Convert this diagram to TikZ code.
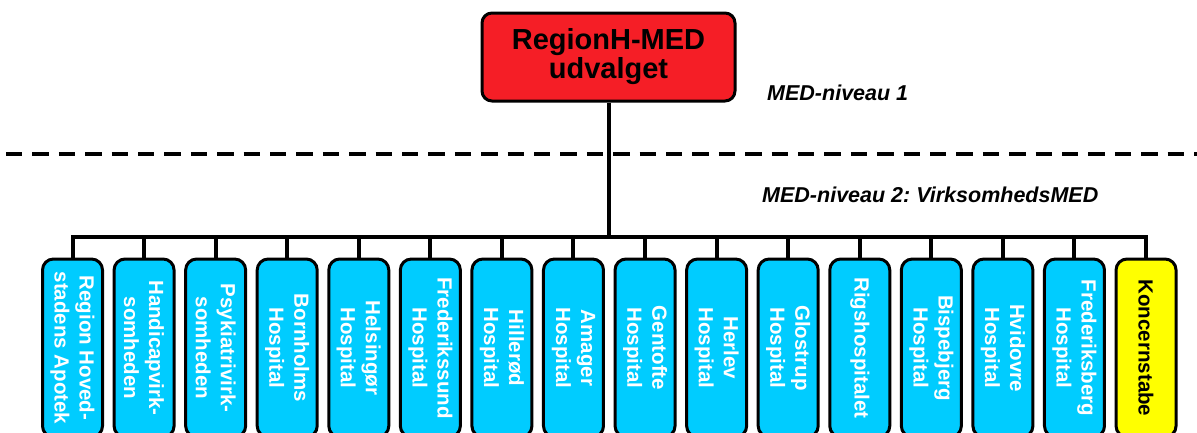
\documentclass[tikz,border=0pt]{standalone}
\usepackage{fontspec}
\setmainfont{Liberation Sans}
\frenchspacing
\definecolor{topred}{RGB}{245,30,38}
\definecolor{unitcyan}{RGB}{0,204,255}
\definecolor{unityellow}{RGB}{255,255,0}
\begin{document}
\frenchspacing
\begin{tikzpicture}[x=1pt,y=-1pt,
  topbox/.style={draw=black, line width=3pt, rounded corners=10pt, fill=topred,
    minimum width=253pt, minimum height=88pt, align=center, inner sep=0pt,
    font=\fontsize{29}{29}\selectfont\bfseries},
  unitbox/.style={draw=black, line width=3pt, rounded corners=11pt, fill=unitcyan,
    text=white, rotate=-90, minimum width=178pt, minimum height=60pt,
    align=center, inner sep=0pt, font=\fontsize{20.5}{25}\selectfont\bfseries},
  staffbox/.style={unitbox, fill=unityellow, text=black},
  conn/.style={line width=4pt, black},
  levellabel/.style={anchor=base west, inner sep=0pt,
    font=\fontsize{21.5}{24}\selectfont\bfseries\itshape},
  divider/.style={line width=4pt, dash pattern=on 16.4pt off 10pt}
]
\clip (0,0) rectangle (1197,432);
\fill[white] (0,0) rectangle (1197,432);

% divider line between levels
\coordinate (dl) at (6,154);
\coordinate (dr) at (1197,154);
\draw[divider] (dl) -- (dr);

% level labels
\node[levellabel] (lv1) at (767,100) {MED-niveau 1};
\node[levellabel] (lv2) at (762,202) {MED-niveau 2: VirksomhedsMED};

% top committee
\node[topbox] (top) at (608.5,57) {RegionH-MED\\udvalget};

% units
\foreach \i/\txt in {1/{Region Hoved-\\stadens Apotek},
                     2/{Handicapvirk-\\somheden},
                     3/{Psykiatrivirk-\\somheden},
                     4/{Bornholms\\Hospital},
                     5/{Helsingør\\Hospital},
                     6/{Frederikssund\\Hospital},
                     7/{Hillerød\\Hospital},
                     8/{Amager\\Hospital},
                     9/{Gentofte\\Hospital},
                     10/{Herlev\\Hospital},
                     11/{Glostrup\\Hospital},
                     12/{Rigshospitalet},
                     13/{Bispebjerg\\Hospital},
                     14/{Hvidovre\\Hospital},
                     15/{Frederiksberg\\Hospital}}{
  \node[unitbox] (u\i) at ({72.5+71.57*(\i-1)},348) {\txt};
}
\node[staffbox] (u16) at ({72.5+71.57*15},348) {Koncernstabe};

% bus
\coordinate (busmid) at (608.5,237);
\coordinate (busl) at (u1.west |- busmid);
\coordinate (busr) at (u16.west |- busmid);
\draw[conn] (top.south) -- (busmid);
\draw[conn, line cap=rect] (busl) -- (busr);
\foreach \i in {1,...,16}{
  \draw[conn] (u\i.west |- busmid) -- (u\i.west);
}
\end{tikzpicture}
\end{document}
